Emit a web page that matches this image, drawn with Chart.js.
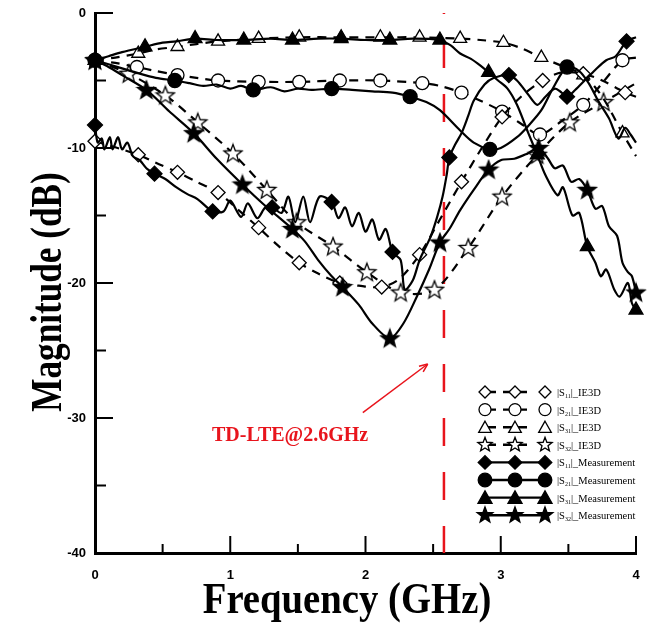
<!DOCTYPE html>
<html>
<head>
<meta charset="utf-8">
<script src="https://cdn.jsdelivr.net/npm/chart.js@4.4.1/dist/chart.umd.min.js"></script>
<style>
  html, body { margin: 0; padding: 0; background: #fff; }
</style>
</head>
<body>
<canvas id="chart" width="647" height="625"></canvas>
<script>
// [frequency GHz, magnitude dB, 1 = marker drawn here]
const s11Sim = [[0,-9.5,1],[0.1,-9.8],[0.2,-10.1],[0.32,-10.5,1],[0.45,-11.1],[0.61,-11.8,1],[0.75,-12.5],[0.91,-13.3,1],[1.05,-14.5],[1.21,-15.9,1],[1.35,-17.2],[1.51,-18.5,1],[1.65,-19.3],[1.81,-20.0,1],[1.95,-20.2],[2.12,-20.3,1],[2.25,-19.7],[2.4,-17.9,1],[2.55,-15.3],[2.71,-12.5,1],[2.86,-10.0],[3.01,-7.7,1],[3.15,-6.2],[3.31,-5.0,1],[3.45,-4.4],[3.61,-4.5,1],[3.75,-5.0],[3.92,-5.9,1],[4.0,-6.2]];
const s21Sim = [[0,-3.5,1],[0.15,-3.7],[0.31,-4.0,1],[0.45,-4.3],[0.61,-4.6,1],[0.75,-4.8],[0.91,-5.0,1],[1.21,-5.1,1],[1.51,-5.1,1],[1.81,-5.0,1],[2.11,-5.0,1],[2.42,-5.2,1],[2.55,-5.4],[2.71,-5.9,1],[2.85,-6.5],[3.01,-7.3,1],[3.15,-8.2],[3.29,-9.0,1],[3.45,-8.0],[3.61,-6.8,1],[3.75,-5.2],[3.9,-3.5,1],[4.0,-3.3]];
const s31Sim = [[0,-3.5,1],[0.15,-3.3],[0.32,-3.0,1],[0.45,-2.7],[0.61,-2.5,1],[0.75,-2.3],[0.91,-2.1,1],[1.21,-1.9,1],[1.51,-1.8,1],[1.82,-1.8,1],[2.11,-1.8,1],[2.4,-1.8,1],[2.7,-1.9,1],[2.85,-2.0],[3.02,-2.2,1],[3.15,-2.6],[3.3,-3.3,1],[3.45,-3.9],[3.61,-4.6,1],[3.75,-6.2],[3.9,-8.9,1],[4.0,-10.6]];
const s32Sim = [[0,-3.5,1],[0.25,-4.5,1],[0.52,-6.1,1],[0.76,-8.1,1],[1.02,-10.4,1],[1.27,-13.1,1],[1.49,-15.5,1],[1.76,-17.3,1],[2.01,-19.2,1],[2.26,-20.7,1],[2.51,-20.5,1],[2.76,-17.4,1],[3.01,-13.6,1],[3.27,-10.5,1],[3.51,-8.1,1],[3.76,-6.6,1],[4.0,-5.2]];

const s11Meas = [[0,-8.3,1],[0.02,-9.6],[0.05,-9.3],[0.07,-10.1],[0.11,-9.2],[0.13,-10.1],[0.17,-9.2],[0.2,-10.1],[0.24,-9.6],[0.28,-10.6],[0.33,-10.9],[0.38,-11.5],[0.44,-11.9,1],[0.52,-12.3],[0.6,-12.9],[0.68,-13.4],[0.76,-13.8],[0.87,-14.7,1],[0.95,-14.7],[1.0,-13.9],[1.08,-15.1],[1.13,-14.1],[1.2,-15.2],[1.26,-14.4],[1.31,-14.4,1],[1.38,-14.8],[1.43,-13.6],[1.48,-15.5],[1.54,-13.6],[1.59,-15.5],[1.66,-13.6],[1.75,-14.0,1],[1.8,-15.2],[1.85,-14.4],[1.9,-15.8],[1.95,-14.8],[2.0,-16.2],[2.05,-15.3],[2.1,-16.8],[2.15,-16.0],[2.2,-17.7,1],[2.26,-18.3],[2.29,-20.5],[2.35,-19.8],[2.4,-18.3],[2.48,-16.6],[2.53,-15.1],[2.57,-13.6],[2.6,-12.0],[2.62,-10.7,1],[2.66,-9.8],[2.71,-8.9],[2.76,-7.6],[2.8,-6.5],[2.88,-5.3],[2.95,-4.8],[3.06,-4.6,1],[3.12,-5.0],[3.2,-6.0],[3.27,-6.8],[3.33,-6.2],[3.4,-5.6],[3.45,-5.9],[3.49,-6.2,1],[3.55,-5.7],[3.62,-5.0],[3.7,-4.2],[3.78,-3.5],[3.85,-3.2],[3.93,-2.1,1],[4.0,-1.8]];
const s21Meas = [[0,-3.5,1],[0.1,-3.8],[0.2,-4.1],[0.3,-4.4],[0.45,-4.8],[0.59,-5.0,1],[0.7,-5.2],[0.8,-5.4],[0.9,-5.3],[1.0,-5.6],[1.08,-5.4],[1.17,-5.7,1],[1.3,-5.5],[1.4,-5.8],[1.5,-5.6],[1.6,-5.7],[1.75,-5.6,1],[1.9,-5.7],[2.05,-5.8],[2.2,-5.9],[2.33,-6.2,1],[2.45,-6.6],[2.55,-7.2],[2.7,-8.7],[2.8,-9.6],[2.92,-10.1,1],[3.0,-10.0],[3.12,-9.2],[3.2,-8.4],[3.3,-7.2],[3.39,-5.5],[3.49,-4.0,1],[3.58,-4.3],[3.65,-5.2],[3.72,-6.5],[3.8,-7.8],[3.87,-9.3],[3.92,-8.5],[3.96,-9.0],[4.0,-9.6]];
const s31Meas = [[0,-3.5,1],[0.1,-3.2],[0.2,-2.9],[0.37,-2.5,1],[0.5,-2.2],[0.6,-2.1],[0.74,-1.9,1],[0.9,-2.0],[1.1,-2.0,1],[1.3,-1.9],[1.46,-2.0,1],[1.65,-1.9],[1.82,-1.9,1],[2.0,-2.0],[2.18,-2.0,1],[2.35,-1.9],[2.55,-2.0,1],[2.63,-2.4],[2.7,-3.0],[2.78,-3.4],[2.85,-3.9],[2.91,-4.4,1],[2.98,-5.0],[3.05,-5.6],[3.12,-6.8],[3.2,-8.8],[3.27,-10.5,1],[3.33,-12.0],[3.42,-13.5],[3.46,-12.9],[3.53,-15.0],[3.58,-14.8],[3.64,-17.3,1],[3.7,-18.5],[3.74,-19.5],[3.78,-19.0],[3.84,-20.5],[3.88,-21.0],[3.94,-20.0],[3.97,-21.5],[4.0,-22.0,1]];
const s32Meas = [[0,-3.5,1],[0.1,-4.0],[0.2,-4.6],[0.38,-5.7,1],[0.55,-7.3],[0.73,-8.9,1],[0.9,-10.8],[1.09,-12.7,1],[1.25,-14.2],[1.46,-16.0,1],[1.55,-16.9],[1.65,-18.3],[1.75,-19.5],[1.83,-20.3,1],[1.95,-21.6],[2.05,-23.0],[2.18,-24.1,1],[2.28,-23.0],[2.38,-21.0],[2.47,-19.0],[2.55,-17.0,1],[2.62,-16.0],[2.7,-14.6],[2.8,-13.1],[2.91,-11.6,1],[3.0,-10.9],[3.1,-10.8],[3.2,-10.4],[3.28,-10.0,1],[3.35,-10.8],[3.4,-11.5],[3.46,-11.3],[3.52,-12.5],[3.58,-12.3],[3.64,-13.1,1],[3.7,-14.5],[3.75,-14.3],[3.8,-15.8],[3.86,-16.5],[3.9,-18.5],[3.94,-19.2],[3.97,-19.5],[4.0,-20.7,1]];

const seriesLabels = ['11', '21', '31', '32'];
const markerFreq = 2.58; // TD-LTE band line
const annotationText = 'TD-LTE@2.6GHz';

// marker shapes, also used for the legend
function markPath(ctx, kind, x, y, r) {
  ctx.beginPath();
  if (kind === 'diamond') {
    ctx.moveTo(x, y - r); ctx.lineTo(x + r, y); ctx.lineTo(x, y + r); ctx.lineTo(x - r, y);
  } else if (kind === 'circle') {
    ctx.arc(x, y, r, 0, Math.PI * 2);
  } else if (kind === 'triangle') {
    ctx.moveTo(x, y - r); ctx.lineTo(x + r * 0.9, y + r * 0.6); ctx.lineTo(x - r * 0.9, y + r * 0.6);
  } else {
    for (let i = 0; i < 10; i++) {
      const a = -Math.PI / 2 + i * Math.PI / 5;
      const rr = i % 2 ? r * 0.42 : r;
      ctx.lineTo(x + Math.cos(a) * rr, y + Math.sin(a) * rr);
    }
  }
  ctx.closePath();
}

function drawMark(ctx, kind, x, y, r, filled) {
  markPath(ctx, kind, x, y, r);
  ctx.fillStyle = filled ? '#000' : '#fff';
  ctx.fill();
  ctx.lineWidth = 1.3;
  ctx.strokeStyle = '#000';
  ctx.stroke();
}

function starImage(filled) {
  const c = document.createElement('canvas');
  c.width = 22; c.height = 22;
  drawMark(c.getContext('2d'), 'star', 11, 11.5, 9.5, filled);
  return c;
}

const series = [
  { name: seriesLabels[0], tag: 'IE3D', pts: s11Sim, kind: 'diamond', filled: false },
  { name: seriesLabels[1], tag: 'IE3D', pts: s21Sim, kind: 'circle', filled: false },
  { name: seriesLabels[2], tag: 'IE3D', pts: s31Sim, kind: 'triangle', filled: false },
  { name: seriesLabels[3], tag: 'IE3D', pts: s32Sim, kind: 'star', filled: false },
  { name: seriesLabels[0], tag: 'Measurement', pts: s11Meas, kind: 'diamond', filled: true },
  { name: seriesLabels[1], tag: 'Measurement', pts: s21Meas, kind: 'circle', filled: true },
  { name: seriesLabels[2], tag: 'Measurement', pts: s31Meas, kind: 'triangle', filled: true },
  { name: seriesLabels[3], tag: 'Measurement', pts: s32Meas, kind: 'star', filled: true }
];

const styleMap = { diamond: 'rectRot', circle: 'circle', triangle: 'triangle' };
const sizeMap = { diamond: 7.5, circle: 7, triangle: 8 };

const datasets = series.map(s => {
  const star = s.kind === 'star' ? starImage(s.filled) : null;
  return {
    label: '|S' + s.name + '|_' + s.tag,
    data: s.pts.map(p => ({ x: p[0], y: p[1], m: p[2] === 1 })),
    order: s.filled ? 0 : 1,
    borderColor: '#000',
    borderWidth: 2.2,
    borderDash: s.tag === 'IE3D' ? [9, 7] : [],
    tension: 0.3,
    fill: false,
    clip: false,
    pointStyle: star || styleMap[s.kind],
    pointRadius: ctx => (ctx.raw && ctx.raw.m ? (s.filled ? sizeMap[s.kind] || 9 : (sizeMap[s.kind] || 9) - 0.5) : 0),
    pointBackgroundColor: s.filled ? '#000' : '#fff',
    pointBorderColor: '#000',
    pointBorderWidth: 1.3
  };
});

const decor = {
  id: 'decor',
  beforeDatasetsDraw(chart) {
    const { ctx, chartArea: a, scales: { x } } = chart;
    const px = x.getPixelForValue(markerFreq);
    ctx.save();
    ctx.strokeStyle = 'rgb(232,20,28)';
    ctx.lineWidth = 2.5;
    ctx.setLineDash([28, 26]);
    ctx.lineDashOffset = 27;
    ctx.beginPath();
    ctx.moveTo(px, a.top);
    ctx.lineTo(px, a.bottom);
    ctx.stroke();
    ctx.restore();
  },
  afterDraw(chart) {
    const { ctx, chartArea: a, scales: { x, y } } = chart;
    ctx.save();
    // inward ticks
    ctx.strokeStyle = '#000';
    ctx.lineWidth = 2;
    for (let v = 0; v <= 4.001; v += 0.5) {
      const px = x.getPixelForValue(v);
      const len = Math.abs(v - Math.round(v)) < 1e-6 ? 17 : 9;
      ctx.beginPath(); ctx.moveTo(px, a.bottom); ctx.lineTo(px, a.bottom - len); ctx.stroke();
    }
    for (let v = -40; v <= 0; v += 5) {
      const py = y.getPixelForValue(v);
      const len = v % 10 === 0 ? 18 : 11;
      ctx.beginPath(); ctx.moveTo(a.left, py); ctx.lineTo(a.left + len, py); ctx.stroke();
    }

    // axis titles
    ctx.fillStyle = '#000';
    ctx.font = 'bold 44px "Liberation Serif", "Times New Roman", serif';
    ctx.textAlign = 'center';
    ctx.textBaseline = 'alphabetic';
    ctx.save();
    ctx.translate(61, 292);
    ctx.rotate(-Math.PI / 2);
    ctx.scale(0.8, 1);
    ctx.fillText('Magnitude (dB)', 0, 0);
    ctx.restore();
    ctx.save();
    ctx.translate(347, 613);
    ctx.scale(0.88, 1);
    ctx.fillText('Frequency (GHz)', 0, 0);
    ctx.restore();

    // annotation
    const red = 'rgb(232,20,28)';
    ctx.fillStyle = red;
    ctx.strokeStyle = red;
    ctx.font = 'bold 20px "Liberation Serif", "Times New Roman", serif';
    ctx.textAlign = 'left';
    ctx.fillText(annotationText, x.getPixelForValue(0.865), y.getPixelForValue(-31.7));
    const x0 = x.getPixelForValue(1.98), y0 = y.getPixelForValue(-29.6);
    const x1 = x.getPixelForValue(2.46), y1 = y.getPixelForValue(-26.0);
    ctx.lineWidth = 1.5;
    ctx.beginPath(); ctx.moveTo(x0, y0); ctx.lineTo(x1, y1); ctx.stroke();
    const ang = Math.atan2(y1 - y0, x1 - x0);
    ctx.beginPath();
    ctx.moveTo(x1, y1);
    ctx.lineTo(x1 - 9 * Math.cos(ang - 0.4), y1 - 9 * Math.sin(ang - 0.4));
    ctx.moveTo(x1, y1);
    ctx.lineTo(x1 - 9 * Math.cos(ang + 0.4), y1 - 9 * Math.sin(ang + 0.4));
    ctx.stroke();

    // legend
    series.forEach((s, i) => {
      const ly = 392 + i * 17.6;
      ctx.strokeStyle = '#000';
      ctx.lineWidth = 2.4;
      ctx.beginPath();
      if (s.tag === 'IE3D') {
        ctx.moveTo(485, ly); ctx.lineTo(496, ly);
        ctx.moveTo(503, ly); ctx.lineTo(527, ly);
      } else {
        ctx.moveTo(485, ly); ctx.lineTo(545, ly);
      }
      ctx.stroke();
      const r = s.kind === 'star' ? 7.5 : s.kind === 'triangle' ? 7 : 6;
      [485, 515, 545].forEach(mx => drawMark(ctx, s.kind, mx, s.kind === 'triangle' ? ly + 1 : ly, s.filled ? r + 0.8 : r, s.filled));
      ctx.fillStyle = '#000';
      ctx.textAlign = 'left';
      ctx.font = '10.5px "Liberation Serif", "Times New Roman", serif';
      let tx = 557;
      ctx.fillText('|S', tx, ly + 4);
      tx += ctx.measureText('|S').width;
      ctx.font = '6px "Liberation Serif", "Times New Roman", serif';
      ctx.fillText(s.name, tx, ly + 6);
      tx += ctx.measureText(s.name).width;
      ctx.font = '10.5px "Liberation Serif", "Times New Roman", serif';
      ctx.fillText('|_' + s.tag, tx, ly + 4);
    });
    ctx.restore();
  }
};

const tickFont = { family: '"Liberation Sans", Arial, sans-serif', size: 13, weight: 'bold' };

new Chart(document.getElementById('chart'), {
  type: 'line',
  data: { datasets },
  plugins: [decor],
  options: {
    responsive: false,
    animation: false,
    devicePixelRatio: 1,
    events: [],
    layout: { autoPadding: false, padding: { top: 13, right: 11, left: 0, bottom: 0 } },
    plugins: { legend: { display: false }, tooltip: { enabled: false } },
    scales: {
      x: {
        type: 'linear', min: 0, max: 4,
        ticks: { stepSize: 1, font: tickFont, color: '#000', padding: 15, maxRotation: 0 },
        grid: { display: false, drawTicks: false },
        border: { display: true, color: '#000', width: 3 },
        afterFit(scale) { scale.height = 72; scale.paddingLeft = 0; scale.paddingRight = 0; }
      },
      y: {
        min: -40, max: 0,
        ticks: { stepSize: 10, font: tickFont, color: '#000', padding: 9 },
        grid: { display: false, drawTicks: false },
        border: { display: true, color: '#000', width: 3 },
        afterFit(scale) { scale.width = 95; scale.paddingTop = 0; scale.paddingBottom = 0; }
      }
    }
  }
});
</script>
</body>
</html>
